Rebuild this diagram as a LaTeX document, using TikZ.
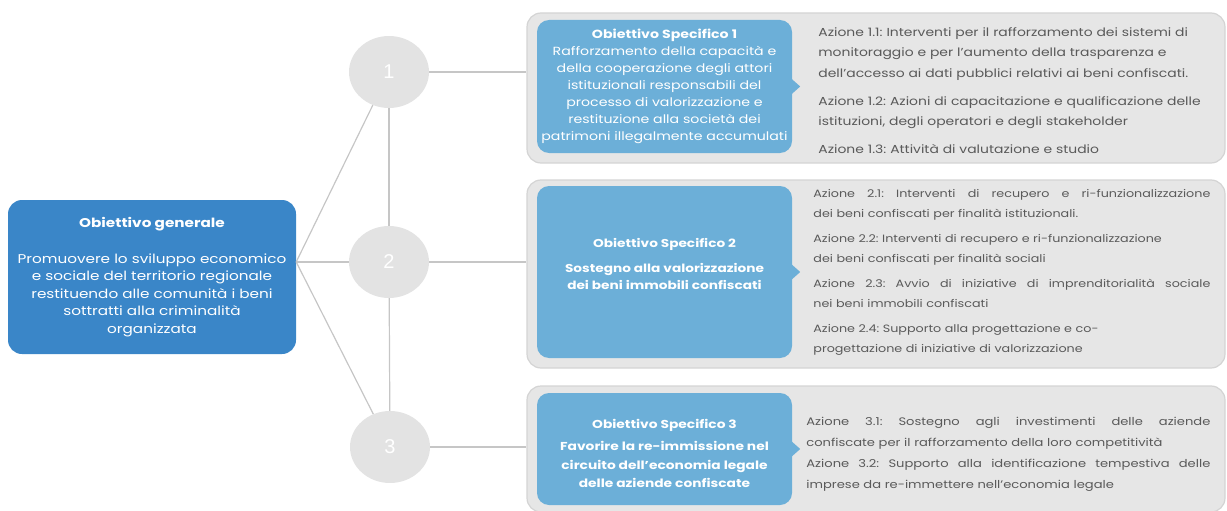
\documentclass[tikz,border=0pt]{standalone}
\usepackage{fontspec}
\setmainfont{Poppins}[FakeStretch=1.2]
\newfontfamily\numfont{Liberation Sans}
\usetikzlibrary{positioning,shapes.geometric}
\definecolor{genblue}{HTML}{3A86C8}
\definecolor{specblue}{HTML}{6CAFD8}
\definecolor{panelgray}{HTML}{E6E6E6}
\definecolor{paneledge}{HTML}{D4D4D4}
\definecolor{ballgray}{HTML}{E3E3E3}
\definecolor{linkgray}{HTML}{C6C6C6}
\definecolor{actgray}{HTML}{5A5A5A}
\newcommand{\jline}[2]{\makebox[#1][s]{\spaceskip=.3333em plus 10em\relax #2}}
\frenchspacing

\begin{document}
\begin{tikzpicture}[x=1pt, y=-1pt,
    panel/.style={draw=paneledge, fill=panelgray, line width=1.2pt, rounded corners=14pt, minimum width=698pt},
    spec/.style={fill=specblue, rounded corners=12pt, text=white, align=center, minimum width=255pt, inner sep=0pt},
    gen/.style={fill=genblue, rounded corners=14pt, text=white, align=center, minimum width=288pt, minimum height=154pt, inner sep=0pt},
    ball/.style={ellipse, fill=ballgray, minimum width=80pt, minimum height=72pt, inner sep=0pt, text=white, font=\numfont\fontsize{20}{20}\selectfont},
    act/.style={text=actgray, align=left, inner sep=0pt},
    link/.style={draw=linkgray, line width=1.2pt}
  ]
  \useasboundingbox (0,0) rectangle (1227,511);

  % panels behind each specific objective
  \node[panel, minimum height=150pt] (o1) at (876,88) {};
  \node[panel, minimum height=188pt] (o2) at (876,274) {};
  \node[panel, minimum height=126pt] (o3) at (876,449) {};

  % specific objectives
  \node[spec, minimum height=133pt, font=\fontsize{11.8}{17}\selectfont] (s1) at (664.5,86.5)
    {{\bfseries Obiettivo Specifico 1}\\
     Rafforzamento della capacità e\\
     della cooperazione degli attori\\
     istituzionali responsabili del\\
     processo di valorizzazione e\\
     restituzione alla società dei\\
     patrimoni illegalmente accumulati};
  \node[spec, minimum height=172pt, font=\bfseries\fontsize{11.4}{17}\selectfont] (s2) at (664.5,272)
    {Obiettivo Specifico 2\\[8pt]
     Sostegno alla valorizzazione\\
     dei beni immobili confiscati\\
     \mbox{}};
  \node[spec, minimum height=112pt, font=\bfseries\fontsize{11.5}{18.5}\selectfont] (s3) at (664.5,449)
    {\mbox{}\\
     Obiettivo Specifico 3\\[4pt]
     Favorire la re-immissione nel\\
     circuito dell'economia legale\\
     delle aziende confiscate};
  \foreach \s in {s1,s2,s3}
    \fill[specblue] ([xshift=-1pt,yshift=8pt]\s.east) -- ++(9pt,-8pt) -- ++(-9pt,-8pt) -- cycle;

  % actions
  \node[act, right=26pt of s1, yshift=-4pt, text width=392pt, font=\fontsize{11.6}{20.5}\selectfont] (a1)
    {Azione 1.1: Interventi per il rafforzamento dei sistemi di\\
     monitoraggio e per l'aumento della trasparenza e\\
     dell'accesso ai dati pubblici relativi ai beni confiscati.\\[7.5pt]
     Azione 1.2: Azioni di capacitazione e qualificazione delle\\
     istituzioni, degli operatori e degli stakeholder\\[7.5pt]
     Azione 1.3: Attività di valutazione e studio};
  \node[act, right=21pt of s2, text width=397pt, font=\fontsize{10.6}{20}\selectfont] (a2)
    {\jline{397pt}{Azione 2.1: Interventi di recupero e ri-funzionalizzazione}\\
     dei beni confiscati per finalità istituzionali.\\[5pt]
     Azione 2.2: Interventi di recupero e ri-funzionalizzazione\\
     dei beni confiscati per finalità sociali\\[5pt]
     \jline{397pt}{Azione 2.3: Avvio di iniziative di imprenditorialità sociale}\\
     nei beni immobili confiscati\\[5pt]
     Azione 2.4: Supporto alla progettazione e co-\\
     progettazione di iniziative di valorizzazione};
  \node[act, right=14pt of s3, yshift=-5pt, text width=404pt, font=\fontsize{10.9}{21}\selectfont] (a3)
    {\jline{404pt}{Azione 3.1: Sostegno agli investimenti delle aziende}\\
     confiscate per il rafforzamento della loro competitività\\
     \jline{404pt}{Azione 3.2: Supporto alla identificazione tempestiva delle}\\
     imprese da re-immettere nell'economia legale};

  % general objective
  \node[gen, font=\fontsize{12.7}{17.5}\selectfont] (g) at (152,277)
    {{\bfseries Obiettivo generale}\\[18pt]
     Promuovere lo sviluppo economico\\
     e sociale del territorio regionale\\
     restituendo alle comunità i beni\\
     sottratti alla criminalità\\
     organizzata};
  \coordinate (hub) at ([yshift=15pt]g.east);

  % numbered circles
  \node[ball] (c1) at (389,72) {1};
  \node[ball] (c2) at (389,262) {2};
  \node[ball] (c3) at (390,447) {3};

  \draw[link] (hub) -- (c1);
  \draw[link] (hub) -- (c2);
  \draw[link] (hub) -- (c3);
  \draw[link] (c1) -- (c2);
  \draw[link] (c2) -- (c3);
  \draw[link] (c1) -- (c1 -| o1.west);
  \draw[link] (c2) -- (c2 -| o2.west);
  \draw[link] (c3) -- (c3 -| o3.west);
\end{tikzpicture}
\end{document}
